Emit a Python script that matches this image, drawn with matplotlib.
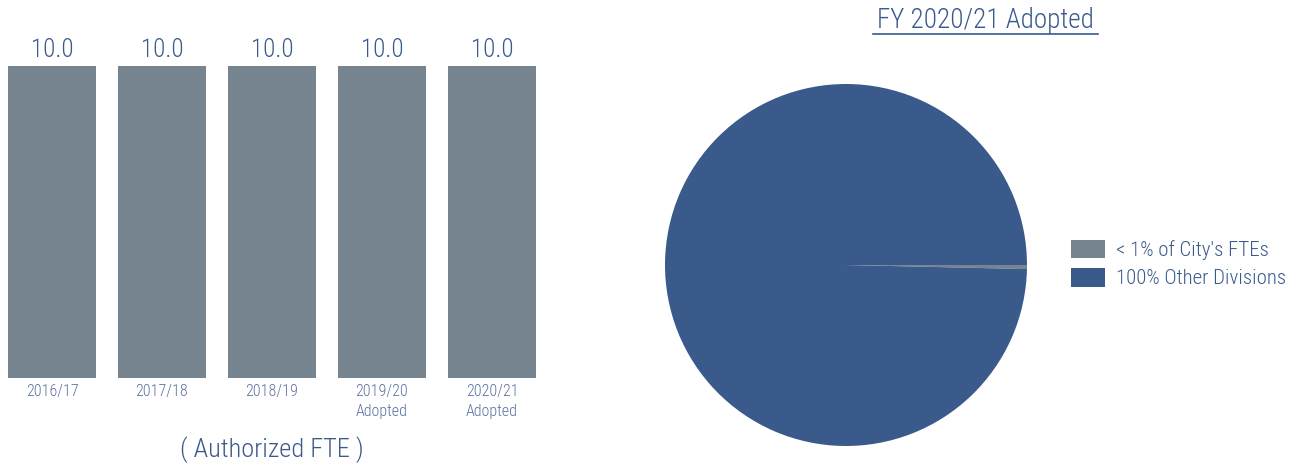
import matplotlib
matplotlib.use("Agg")
import matplotlib.pyplot as plt
from matplotlib import font_manager
from matplotlib.patches import Patch

names = {f.name for f in font_manager.fontManager.ttflist}
FONT = "Roboto Condensed" if "Roboto Condensed" in names else "Roboto"
plt.rcParams["font.family"] = [FONT, "DejaVu Sans"]

# authorized FTE by fiscal year
years = ["2016/17", "2017/18", "2018/19", "2019/20\nAdopted", "2020/21\nAdopted"]
fte = [10.0, 10.0, 10.0, 10.0, 10.0]

# share of city-wide FTEs
pie_labels = ["< 1% of City's FTEs", "100% Other Divisions"]
pie_values = [10.0, 2790.0]

GRAY = "#75848f"
BLUE = "#3a5a8c"
TEXT = "#3a5a8c"

fig = plt.figure(figsize=(13.02, 4.68), dpi=100)
W, H = 1302, 468

ax = fig.add_axes([8 / W, 90 / H, 528 / W, 312 / H])
x = range(len(years))
ax.bar(x, fte, width=0.8, color=GRAY)
ax.set_xlim(-0.4, len(years) - 0.6)
ax.set_ylim(0, 10)
for xi, v in zip(x, fte):
    ax.text(xi, v + 0.5, f"{v:.1f}", ha="center", va="center",
            fontsize=18, color=TEXT, fontweight="light", clip_on=False)
ax.set_xticks(list(x))
ax.set_xticklabels(years, fontsize=11.5, color="#5d72a0", linespacing=1.45,
                   va="top", fontweight="light")
ax.tick_params(axis="x", length=0, pad=4)
ax.set_yticks([])
for s in ax.spines.values():
    s.set_visible(False)
fig.text(272 / W, 1 - 450 / H, "( Authorized FTE )", ha="center", va="center",
         fontsize=19, color=TEXT, fontweight="light")

pax = fig.add_axes([(846 - 181) / W, (468 - 265 - 181) / H, 362 / W, 362 / H])
pax.pie(pie_values, colors=[GRAY, BLUE], startangle=0, counterclock=False,
        wedgeprops=dict(linewidth=0))
pax.set_aspect("equal")
pax.set_xlim(-1, 1)
pax.set_ylim(-1, 1)

fig.text(985 / W, 1 - 20 / H, "FY 2020/21 Adopted", ha="center", va="center",
         fontsize=19.5, color=TEXT, fontweight="light")
fig.add_artist(plt.Line2D([873 / W, 1098 / W], [1 - 34 / H, 1 - 34 / H],
                          color=TEXT, linewidth=1.2))

handles = [Patch(facecolor=GRAY), Patch(facecolor=BLUE)]
fig.legend(handles, pie_labels, loc="center left", bbox_to_anchor=(1071 / W, 1 - 264 / H),
           frameon=False, labelcolor=TEXT, handlelength=1.65,
           handleheight=1.0, handletextpad=0.5, labelspacing=0.38, borderpad=0,
           borderaxespad=0, prop=dict(weight="light", size=15))

fig.savefig("out.png", dpi=100)
